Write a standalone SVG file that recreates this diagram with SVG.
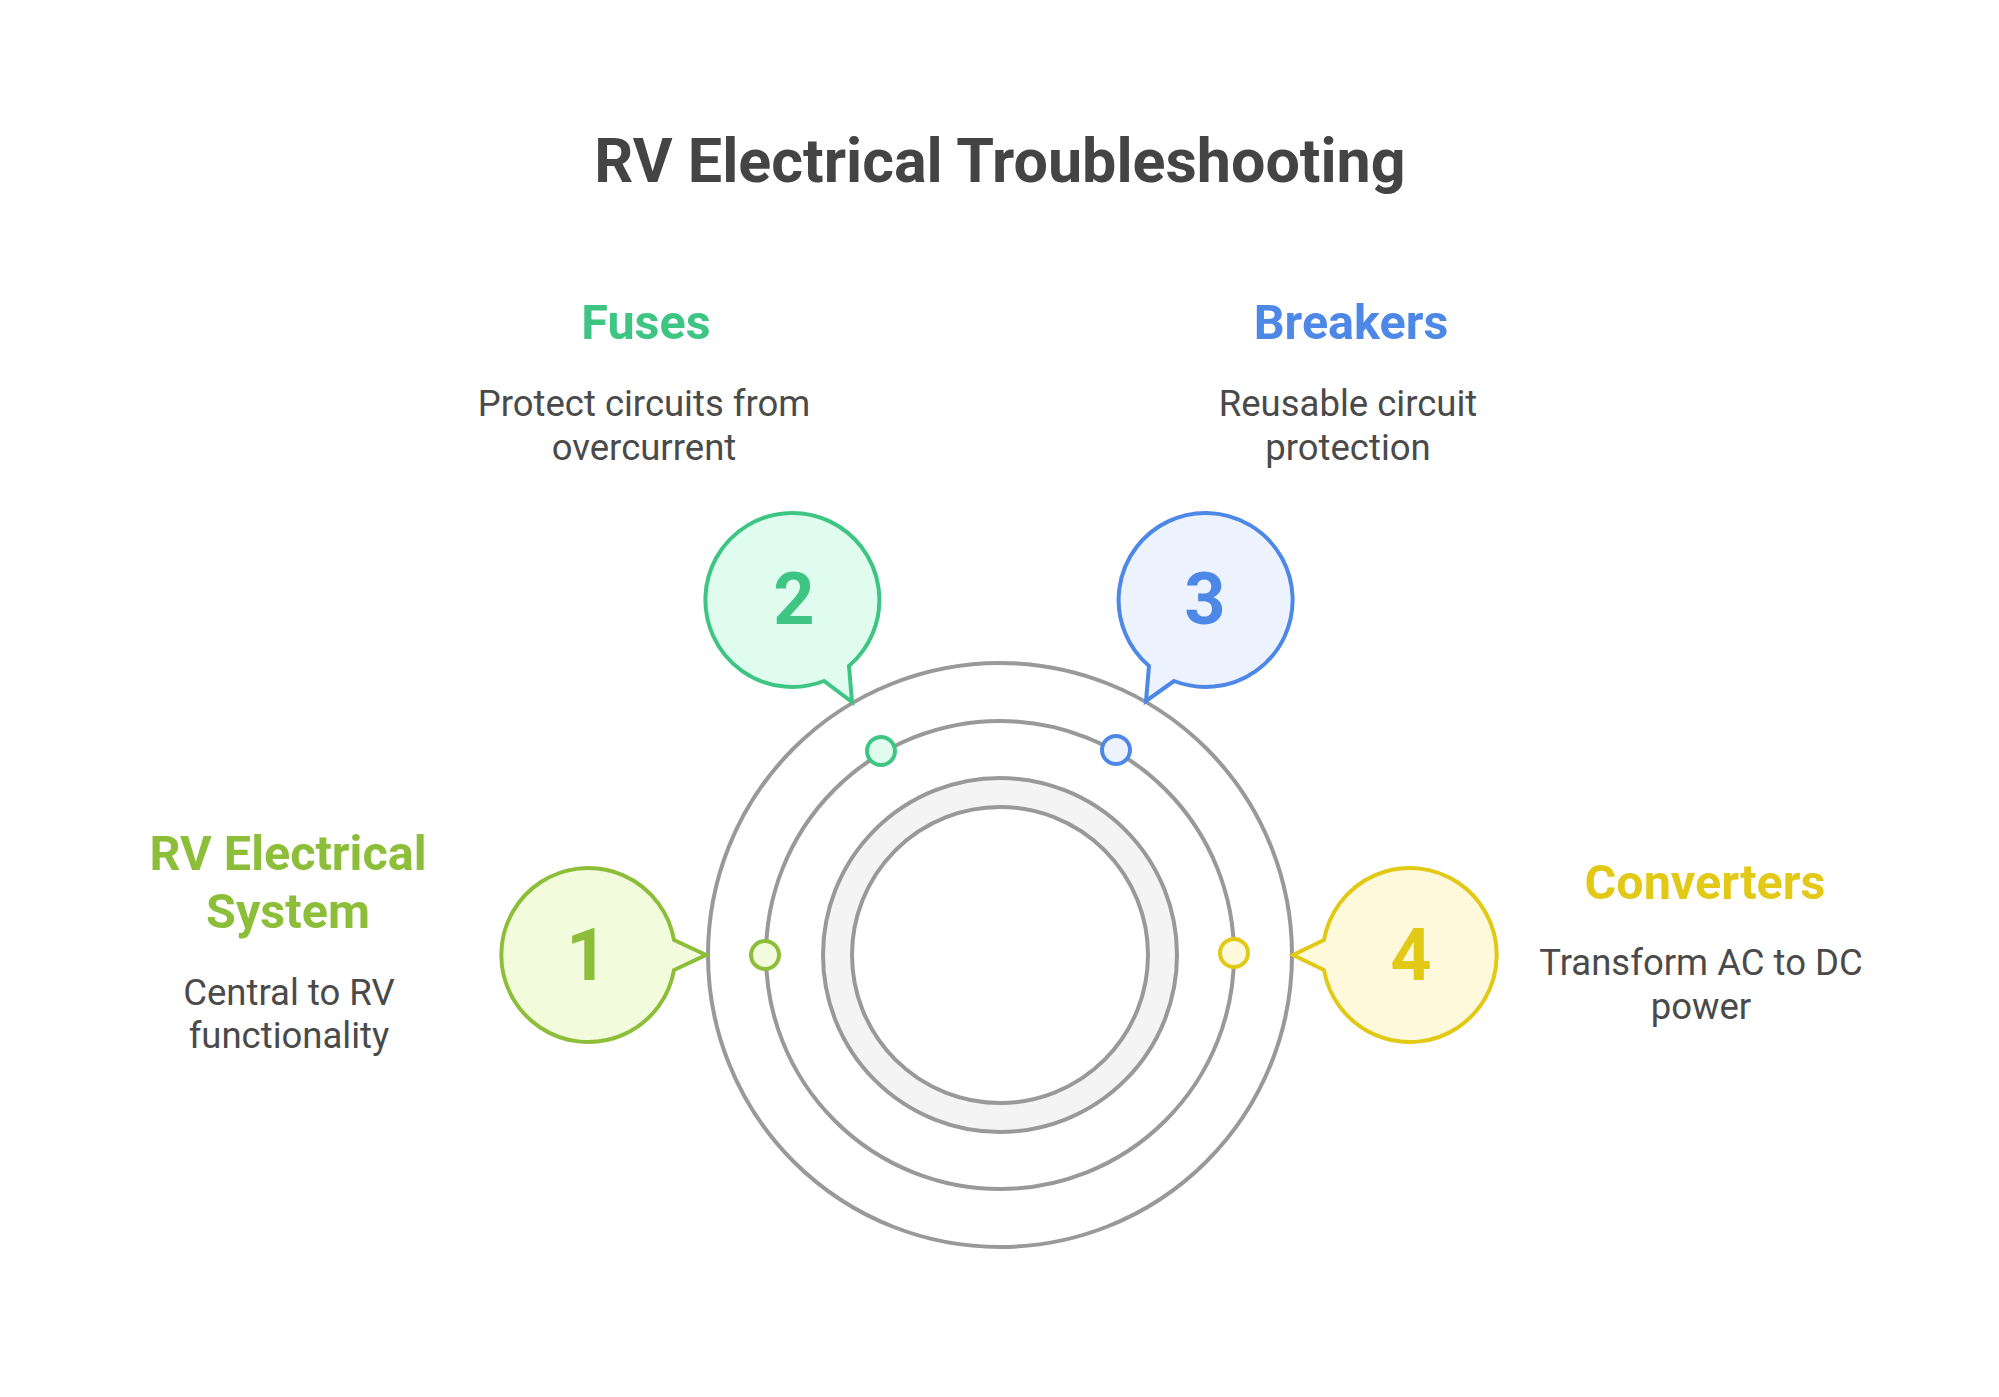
<svg xmlns="http://www.w3.org/2000/svg" width="1999" height="1397" viewBox="0 0 1999 1397">
<style>
text{font-family:Roboto,"Liberation Sans",sans-serif;text-anchor:middle}
.title{font-size:61px;font-weight:700;fill:#444444}
.head{font-size:48.5px;font-weight:700}
.desc{font-size:36.5px;fill:#4a4a4a}
.num{font-size:72px;font-weight:700}
.ring{fill:none;stroke:#999999;stroke-width:4}
.b{stroke-width:4;stroke-linejoin:miter}
.g1{stroke:#8dbe3a;fill:#f2fcdc}.t1{fill:#8dbe3a}
.g2{stroke:#3ec583;fill:#e0fcef}.t2{fill:#3ec583}
.g3{stroke:#4e88e7;fill:#ecf3fe}.t3{fill:#4e88e7}
.g4{stroke:#e2c916;fill:#fef9db}.t4{fill:#e2c916}
</style>
<rect width="1999" height="1397" fill="#ffffff"/>
<text class="title" x="1000" y="182">RV Electrical Troubleshooting</text>
<g id="rings">
<circle class="ring" cx="1000" cy="955" r="292"/>
<circle class="ring" cx="1000" cy="955" r="234"/>
<circle cx="1000" cy="955" r="177" fill="#f4f4f4" stroke="#999999" stroke-width="4"/>
<circle cx="1000" cy="955" r="148" fill="#ffffff" stroke="#999999" stroke-width="4"/>
</g>
<g id="connectors">
<circle class="b g1" cx="765" cy="955" r="14"/>
<circle class="b g2" cx="881" cy="751" r="14"/>
<circle class="b g3" cx="1116" cy="750" r="14"/>
<circle class="b g4" cx="1234" cy="953" r="14"/>
</g>
<g id="node1">
<path class="b g1" d="M 674 940 L 706 955 L 674 970 A 87 87 0 1 1 674 940 Z"/>
<text class="num t1" x="587" y="980">1</text>
<text class="head t1" x="288" y="870">RV Electrical</text>
<text class="head t1" x="288" y="928">System</text>
<text class="desc" x="289" y="1005">Central to RV</text>
<text class="desc" x="289" y="1048">functionality</text>
</g>
<g id="node2">
<path class="b g2" d="M 849 666 L 852 702 L 824 681 A 87 87 0 1 1 849 666 Z"/>
<text class="num t2" x="794" y="624">2</text>
<text class="head t2" x="646" y="339">Fuses</text>
<text class="desc" x="644" y="416">Protect circuits from</text>
<text class="desc" x="644" y="460">overcurrent</text>
</g>
<g id="node3">
<path class="b g3" d="M 1149 666 L 1146 701 L 1174 681 A 87 87 0 1 0 1149 666 Z"/>
<text class="num t3" x="1205" y="624">3</text>
<text class="head t3" x="1351" y="339">Breakers</text>
<text class="desc" x="1348" y="416">Reusable circuit</text>
<text class="desc" x="1348" y="460">protection</text>
</g>
<g id="node4">
<path class="b g4" d="M 1324 940 L 1293 955 L 1324 970 A 87 87 0 1 0 1324 940 Z"/>
<text class="num t4" x="1411" y="980">4</text>
<text class="head t4" x="1705" y="899">Converters</text>
<text class="desc" x="1701" y="975">Transform AC to DC</text>
<text class="desc" x="1701" y="1019">power</text>
</g>
</svg>
